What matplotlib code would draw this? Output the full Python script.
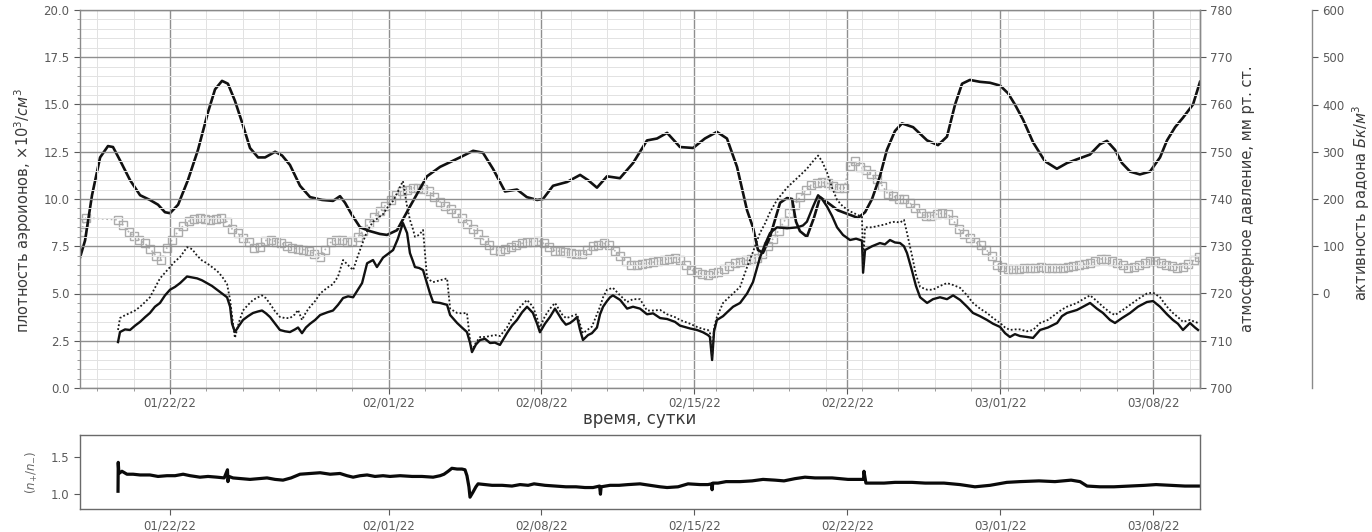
import datetime as dt

import numpy as np
import matplotlib
matplotlib.use("Agg")
import matplotlib.pyplot as plt
import matplotlib.dates as mdates
from matplotlib.ticker import MultipleLocator, FixedLocator, FormatStrFormatter

# ---------------------------------------------------------------- data
# time is given in days counted from 2022-01-18 00:00
START = dt.datetime(2022, 1, 18)

# atmospheric pressure, mm Hg
p_days = [-0.12, 0.11, 0.43, 0.80, 1.16, 1.39, 1.71, 2.17, 2.63, 3.08, 3.45, 3.77, 4.00,
          4.37, 4.82, 5.28, 5.74, 6.06, 6.38, 6.65, 6.97, 7.34, 7.66, 8.03, 8.35, 8.81,
          9.13, 9.49, 9.95, 10.41, 10.96, 11.46, 11.78, 12.01, 12.33, 12.70, 13.15, 13.61,
          13.93, 14.39, 14.98, 15.76, 16.36, 17.27, 17.87, 18.32, 18.78, 19.33, 19.88,
          20.33, 20.80, 21.07, 21.53, 22.17, 22.77, 23.13, 23.54, 24.00, 24.59, 25.19,
          25.83, 26.29, 26.75, 27.34, 27.94, 28.48, 29.03, 29.49, 29.95, 30.41, 30.68,
          30.91, 31.14, 31.46, 31.92, 32.24, 32.47, 32.65, 32.83, 33.15, 33.47, 33.75,
          34.11, 34.57, 35.03, 35.49, 35.81, 36.13, 36.49, 36.81, 37.18, 37.50, 38.01,
          38.65, 39.15, 39.56, 39.93, 40.25, 40.61, 41.07, 41.53, 41.99, 42.35, 42.67,
          43.04, 43.50, 44.04, 44.59, 45.05, 45.51, 46.10, 46.56, 46.88, 47.25, 47.57,
          47.94, 48.39, 48.85, 49.31, 49.63, 50.00, 50.36, 50.82, 51.14]
p_mmhg = [727.6, 731.2, 740.8, 748.8, 751.2, 751.0, 748.2, 744.0, 740.8, 739.8, 738.8, 737.2,
          737.0, 738.8, 744.0, 750.4, 758.4, 763.2, 765.0, 764.4, 760.8, 755.6, 750.8, 748.8,
          748.8, 750.0, 749.2, 747.2, 742.8, 740.4, 739.8, 739.6, 740.6, 739.2, 736.6, 734.0,
          733.2, 732.6, 732.4, 733.4, 738.4, 744.8, 746.8, 748.8, 750.2, 749.8, 746.4, 741.6,
          742.0, 740.4, 739.8, 740.0, 742.8, 743.6, 745.1, 744.0, 742.4, 744.8, 744.4, 747.6,
          752.4, 752.8, 754.0, 751.0, 750.8, 752.8, 754.2, 752.8, 746.8, 737.6, 734.0, 729.2,
          728.6, 732.0, 739.2, 740.2, 740.0, 735.2, 733.2, 732.0, 736.0, 740.4, 739.2, 737.6,
          736.8, 736.0, 737.2, 740.0, 744.8, 750.4, 754.4, 756.0, 755.2, 752.4, 751.4, 753.2,
          760.0, 764.4, 765.2, 764.8, 764.6, 764.0, 762.4, 760.0, 756.8, 752.0, 748.0, 746.4,
          747.6, 748.4, 749.4, 751.6, 752.3, 750.4, 747.6, 745.8, 745.2, 745.8, 748.8, 752.4,
          755.2, 757.2, 760.0, 764.8]

# air ion densities, x10^3 per cm^3 (negative: solid, positive: dotted)
ion_days = [1.62, 1.71, 1.94, 2.17, 2.40, 2.63, 2.86, 3.08, 3.31, 3.54, 3.77, 4.00, 4.23, 4.46,
            4.78, 5.01, 5.24, 5.46, 5.69, 5.92, 6.15, 6.38, 6.61, 6.75, 6.84, 6.97, 7.16, 7.34,
            7.57, 7.80, 8.03, 8.21, 8.39, 8.58, 8.81, 9.03, 9.26, 9.49, 9.72, 9.86, 10.04,
            10.22, 10.41, 10.64, 10.87, 11.19, 11.46, 11.69, 11.92, 12.15, 12.38, 12.60, 12.79,
            13.02, 13.29, 13.47, 13.75, 13.98, 14.21, 14.43, 14.66, 14.85, 14.98, 15.12, 15.21,
            15.40, 15.58, 15.76, 15.90, 16.04, 16.36, 16.68, 16.82, 17.14, 17.36, 17.59, 17.73,
            17.82, 18.00, 18.19, 18.42, 18.65, 18.87, 19.10, 19.42, 19.65, 19.88, 20.11, 20.34,
            20.61, 20.80, 20.93, 21.16, 21.39, 21.62, 21.94, 22.12, 22.31, 22.49, 22.63, 22.76,
            22.90, 23.13, 23.31, 23.54, 23.68, 23.82, 24.00, 24.14, 24.27, 24.60, 24.92, 25.19,
            25.51, 25.83, 26.11, 26.43, 26.75, 27.11, 27.34, 27.80, 28.12, 28.39, 28.62, 28.71,
            28.81, 28.90, 29.03, 29.31, 29.49, 29.77, 30.09, 30.41, 30.68, 31.00, 31.23, 31.46,
            31.78, 32.24, 32.70, 32.97, 33.15, 33.43, 33.66, 33.84, 34.07, 34.30, 34.53, 34.80,
            35.12, 35.40, 35.67, 35.72, 35.81, 36.13, 36.49, 36.72, 36.95, 37.18, 37.41, 37.59,
            37.73, 37.96, 38.14, 38.33, 38.65, 38.92, 39.24, 39.56, 39.84, 40.16, 40.48, 40.75,
            41.07, 41.39, 41.67, 41.99, 42.22, 42.44, 42.67, 42.90, 43.22, 43.50, 43.82, 44.18,
            44.60, 44.82, 45.05, 45.51, 45.79, 46.11, 46.42, 46.70, 47.02, 47.25, 47.57, 47.94,
            48.30, 48.71, 48.99, 49.31, 49.63, 49.90, 50.13, 50.36, 50.68, 50.91, 51.05]
ion_neg = [2.43, 2.96, 3.10, 3.07, 3.30, 3.50, 3.75, 3.97, 4.30, 4.50, 4.90, 5.20, 5.35, 5.55,
           5.90, 5.85, 5.80, 5.70, 5.55, 5.40, 5.20, 5.00, 4.80, 4.30, 3.40, 2.96, 3.30, 3.60,
           3.80, 3.97, 4.05, 4.10, 3.95, 3.75, 3.40, 3.07, 3.00, 2.96, 3.10, 3.20, 2.90,
           3.20, 3.40, 3.60, 3.86, 4.00, 4.10, 4.40, 4.76, 4.85, 4.80, 5.20, 5.55,
           6.60, 6.77, 6.40, 6.90, 7.10, 7.30, 7.90, 8.73, 8.20, 7.14, 6.70, 6.40,
           6.35, 6.24, 5.55, 5.00, 4.55, 4.50, 4.40, 3.86, 3.44, 3.20, 2.96, 2.40,
           1.90, 2.30, 2.54, 2.60, 2.38, 2.40, 2.28, 2.90, 3.30, 3.60, 4.00, 4.30,
           3.97, 3.40, 2.95, 3.40, 3.76, 4.20, 3.60, 3.35, 3.44, 3.60, 3.76, 3.10,
           2.54, 2.80, 2.90, 3.20, 3.90, 4.30, 4.60, 4.80, 4.90, 4.66, 4.20, 4.30,
           4.20, 3.90, 3.95, 3.70, 3.65, 3.50, 3.30, 3.15, 3.07, 2.95, 2.80, 2.70,
           1.48, 3.00, 3.60, 3.80, 4.00, 4.30, 4.50, 5.00, 5.60, 6.90, 7.60, 8.20,
           8.50, 8.45, 8.50, 8.60, 8.80, 9.60, 10.20, 10.00, 9.60, 9.10, 8.50, 8.10,
           7.83, 7.90, 7.80, 6.10, 7.30, 7.50, 7.67, 7.60, 7.83, 7.70, 7.67, 7.50,
           7.14, 6.20, 5.40, 4.80, 4.50, 4.70, 4.80, 4.70, 4.90, 4.66, 4.30, 3.97,
           3.80, 3.60, 3.40, 3.23, 2.90, 2.70, 2.85, 2.75, 2.70, 2.65, 3.07, 3.20,
           3.44, 3.80, 3.97, 4.13, 4.30, 4.50, 4.20, 3.97, 3.60, 3.44, 3.70, 3.97,
           4.30, 4.55, 4.60, 4.30, 3.90, 3.60, 3.40, 3.07, 3.44, 3.20, 3.07]
ion_pos = [3.07, 3.70, 3.85, 3.97, 4.10, 4.30, 4.55, 4.80, 5.30, 5.80, 6.10, 6.40, 6.70, 6.93,
           7.45, 7.35, 7.00, 6.75, 6.60, 6.40, 6.20, 5.90, 5.50, 4.66, 3.80, 2.65, 3.50, 4.10,
           4.40, 4.66, 4.80, 4.90, 4.75, 4.45, 4.05, 3.76, 3.70, 3.70, 3.90, 4.13, 3.60,
           4.00, 4.30, 4.60, 5.00, 5.30, 5.50, 5.90, 6.77, 6.50, 6.24, 7.00, 7.60,
           8.30, 8.80, 8.95, 9.20, 9.60, 9.90, 10.40, 10.95, 9.60, 8.90, 8.40, 8.00,
           8.10, 8.36, 5.87, 5.70, 5.60, 5.70, 5.80, 4.20, 3.97, 3.95, 3.97, 2.54,
           2.00, 2.40, 2.70, 2.70, 2.75, 2.80, 2.75, 3.20, 3.70, 4.10, 4.40, 4.66,
           4.30, 3.70, 3.20, 3.80, 4.20, 4.50, 3.90, 3.70, 3.76, 3.86, 3.90, 3.40,
           2.90, 3.10, 3.25, 3.90, 4.30, 4.80, 5.20, 5.25, 5.30, 4.90, 4.55, 4.70,
           4.70, 4.10, 4.10, 4.13, 3.90, 3.75, 3.60, 3.40, 3.23, 3.12, 3.07, 2.95,
           1.64, 3.20, 3.76, 4.50, 4.70, 5.00, 5.35, 6.40, 7.20, 8.20, 8.70, 9.30,
           9.95, 10.60, 11.10, 11.40, 11.60, 12.00, 12.30, 12.00, 11.40, 10.60, 9.95, 9.60,
           9.35, 9.20, 9.05, 6.50, 8.50, 8.50, 8.60, 8.65, 8.75, 8.80, 8.75, 8.90,
           8.20, 7.00, 6.00, 5.35, 5.20, 5.20, 5.40, 5.55, 5.45, 5.30, 4.90, 4.50,
           4.20, 3.97, 3.70, 3.44, 3.20, 3.07, 3.10, 3.10, 3.00, 3.07, 3.44, 3.60,
           3.97, 4.15, 4.30, 4.50, 4.70, 4.90, 4.60, 4.30, 4.00, 3.86, 4.10, 4.40,
           4.70, 5.00, 5.05, 4.80, 4.30, 3.97, 3.75, 3.50, 3.60, 3.50, 3.44]

# radon activity, Bq/m^3: a short opening record, then six-hourly readings
radon_head_days = [-0.05, 0.05, 0.15]
radon_head = [130, 150, 160]
radon_t0, radon_dt = 1.60, 0.25
radon_vals = [156, 145, 131, 121, 113, 106, 94, 80,
              70, 96, 114, 130, 143, 153, 157, 160,
              158, 156, 158, 160, 152, 136, 127, 118,
              109, 97, 98, 112, 114, 110, 106, 101,
              96, 95, 93, 90, 84, 78, 93, 108,
              113, 114, 110, 111, 120, 133, 149, 162,
              175, 186, 197, 208, 217, 220, 224, 223,
              221, 216, 204, 194, 186, 178, 171, 160,
              148, 137, 126, 114, 103, 93, 90, 95,
              99, 102, 106, 109, 110, 112, 106, 98,
              91, 89, 87, 86, 83, 84, 92, 100,
              103, 106, 103, 91, 80, 69, 60, 61,
              63, 64, 66, 69, 71, 74, 76, 71,
              60, 50, 45, 42, 40, 43, 45, 52,
              59, 65, 67, 70, 73, 76, 84, 100,
              116, 133, 152, 170, 188, 205, 218, 230,
              234, 235, 233, 228, 223, 223, 270, 280,
              268, 261, 253, 242, 228, 211, 206, 201,
              199, 192, 180, 171, 163, 165, 168, 170,
              168, 155, 136, 125, 117, 109, 102, 93,
              80, 60, 56, 51, 51, 52, 54, 55,
              55, 56, 55, 55, 54, 55, 57, 59,
              61, 62, 64, 68, 73, 72, 68, 64,
              60, 55, 57, 61, 65, 69, 69, 65,
              61, 58, 55, 57, 62, 70, 78]

# ratio of positive to negative ion density
ratio_days = [1.62, 1.63, 1.66, 1.80, 2.03, 2.31, 2.63, 3.08, 3.45, 3.86,
              4.23, 4.60, 4.92, 5.37, 5.74, 6.15, 6.48, 6.63, 6.65, 6.70,
              6.88, 7.30, 7.66, 8.03, 8.44, 8.81, 9.17, 9.54, 9.95, 10.41,
              10.87, 11.33, 11.78, 12.10, 12.38, 12.70, 13.02, 13.38, 13.75, 14.07,
              14.53, 15.08, 15.53, 16.04, 16.36, 16.54, 16.73, 16.90, 17.14, 17.36,
              17.50, 17.59, 17.68, 17.73, 17.87, 18.00, 18.10, 18.42, 18.74, 19.20,
              19.65, 20.02, 20.39, 20.66, 21.16, 21.66, 22.12, 22.58, 22.99, 23.36,
              23.66, 23.70, 23.73, 24.14, 24.55, 24.97, 25.51, 25.97, 26.43, 26.75,
              27.25, 27.71, 28.26, 28.62, 28.79, 28.81, 28.84, 29.08, 29.45, 30.09,
              30.64, 31.14, 31.69, 32.10, 32.60, 33.06, 33.52, 33.98, 34.30, 34.66,
              35.03, 35.40, 35.67, 35.74, 35.76, 35.85, 36.22, 36.68, 37.18, 37.96,
              38.56, 39.42, 40.15, 40.84, 41.53, 42.30, 42.90, 43.77, 44.50, 45.24,
              45.65, 45.97, 46.56, 47.20, 47.94, 48.62, 49.13, 49.77, 50.45, 51.10]
ratio_vals = [1.04, 1.43, 1.28, 1.31, 1.27, 1.27, 1.26, 1.26, 1.24, 1.25,
              1.25, 1.27, 1.25, 1.23, 1.24, 1.23, 1.22, 1.33, 1.17, 1.24,
              1.22, 1.21, 1.20, 1.21, 1.22, 1.20, 1.19, 1.22, 1.27, 1.28,
              1.29, 1.27, 1.28, 1.25, 1.23, 1.25, 1.26, 1.24, 1.25, 1.24,
              1.25, 1.24, 1.24, 1.23, 1.25, 1.27, 1.31, 1.35, 1.34, 1.34,
              1.33, 1.25, 1.10, 0.96, 1.03, 1.10, 1.14, 1.13, 1.12, 1.12,
              1.11, 1.13, 1.12, 1.14, 1.12, 1.11, 1.10, 1.10, 1.09, 1.09,
              1.11, 1.00, 1.10, 1.12, 1.12, 1.13, 1.14, 1.12, 1.10, 1.09,
              1.10, 1.14, 1.13, 1.13, 1.14, 1.06, 1.15, 1.15, 1.17, 1.17,
              1.18, 1.20, 1.19, 1.18, 1.21, 1.23, 1.22, 1.22, 1.22, 1.21,
              1.20, 1.20, 1.20, 1.20, 1.31, 1.15, 1.15, 1.15, 1.16, 1.16,
              1.15, 1.15, 1.13, 1.10, 1.12, 1.16, 1.17, 1.18, 1.17, 1.19,
              1.17, 1.11, 1.10, 1.10, 1.11, 1.12, 1.13, 1.12, 1.11, 1.11]

# ---------------------------------------------------------------- helpers
base = mdates.date2num(START)


def to_dates(days):
    return base + np.asarray(days, dtype=float)


t_p = to_dates(p_days)
t_ion = to_dates(ion_days)
t_radon = to_dates(np.concatenate([radon_head_days,
                                   radon_t0 + radon_dt * np.arange(len(radon_vals))]))
radon_all = np.concatenate([radon_head, radon_vals])
t_ratio = to_dates(ratio_days)

TICK_C = "#5a5a5a"
LABEL_C = "#3a3a3a"
SPINE_C = "#8a8a8a"

W, H = 1372, 532
fig = plt.figure(figsize=(W / 100, H / 100), dpi=100)
ax = fig.add_axes([80 / W, 1 - 388 / H, 1120 / W, 378 / H])
axb = fig.add_axes([80 / W, 1 - 509 / H, 1120 / W, 74 / H])

axp = ax.twinx()
axr = ax.twinx()

# draw the radon squares underneath, pressure next, ions on top
axr.set_zorder(1)
axp.set_zorder(2)
ax.set_zorder(3)
ax.patch.set_visible(False)

# ---- main panel: ion densities
ax.plot(t_ion, ion_neg, color="#111111", lw=1.7, solid_joinstyle="round")
ax.plot(t_ion, ion_pos, color="#1a1a1a", lw=1.3, ls=(0, (1, 1.2)))
ax.set_ylim(0, 20)
ax.yaxis.set_major_locator(MultipleLocator(2.5))
ax.yaxis.set_minor_locator(MultipleLocator(0.5))
ax.yaxis.set_major_formatter(FormatStrFormatter("%.1f"))

# ---- pressure
axp.plot(t_p, p_mmhg, color="#111111", lw=1.9, solid_joinstyle="round")
axp.set_ylim(700, 780)
axp.yaxis.set_major_locator(MultipleLocator(10))

# ---- radon
axr.plot(t_radon, radon_all, ls=":", lw=1.2, color="#b4b4b4",
         marker="s", ms=5.8, mfc="none", mec="#acacac", mew=1.0)
axr.set_ylim(-200, 600)
axr.yaxis.set_major_locator(FixedLocator(np.arange(0, 601, 100)))
axr.spines["right"].set_position(("axes", 1.1))
for s in ("top", "left", "bottom"):
    axr.spines[s].set_visible(False)
    axp.spines[s].set_visible(False)

# ---- shared x axis
xmin, xmax = t_p[0], t_p[-1]
minor_x = base + 4 + (5.0 / 3.0) * np.arange(-3, 30)
for a in (ax, axb):
    a.set_xlim(xmin, xmax)
    a.xaxis.set_major_locator(mdates.DayLocator(bymonthday=[1, 8, 15, 22]))
    a.xaxis.set_major_formatter(mdates.DateFormatter("%m/%d/%y"))
ax.xaxis.set_minor_locator(FixedLocator(minor_x))

ax.set_axisbelow(True)
ax.grid(which="major", color="#8f8f8f", lw=1.0)
ax.grid(which="minor", color="#e2e2e2", lw=0.7)

for a in (ax, axp, axr, axb):
    a.tick_params(which="major", labelsize=8.5, colors=TICK_C, length=4, width=0.8)
    a.tick_params(which="minor", length=2.5, width=0.6, colors=SPINE_C)
    for s in a.spines.values():
        s.set_color(SPINE_C)
        s.set_linewidth(1.0)
ax.tick_params(axis="x", which="major", pad=2)

# ---- labels
ax.set_xlabel("время, сутки", fontsize=12, color=LABEL_C)
ax.xaxis.set_label_coords(0.5, -0.058)
ax.set_ylabel(r"плотность аэроионов, ×10$^3$/$см^3$", fontsize=10.5, color=LABEL_C)
ax.yaxis.set_label_coords(-0.041, 0.47)
axp.set_ylabel("атмосферное давление, мм рт. ст.", fontsize=10.5, color=LABEL_C)
axp.yaxis.set_label_coords(1.036, 0.5)
axr.set_ylabel(r"активность радона $Бк/м^3$", fontsize=10.5, color=LABEL_C)
axr.yaxis.set_label_coords(1.134, 0.49)

# ---- lower panel: ratio n+/n-
axb.plot(t_ratio, ratio_vals, color="#0a0a0a", lw=2.3, solid_joinstyle="round")
axb.set_ylim(0.8, 1.8)
axb.set_yticks([1.0, 1.5])
axb.yaxis.set_major_formatter(FormatStrFormatter("%.1f"))
axb.set_ylabel(r"$(n_{+}/n_{-})$", fontsize=8.5, color="#666666")
axb.yaxis.set_label_coords(-0.036, 0.5)
for s in axb.spines.values():
    s.set_color("#6a6a6a")

fig.savefig("out.png", dpi=100)
